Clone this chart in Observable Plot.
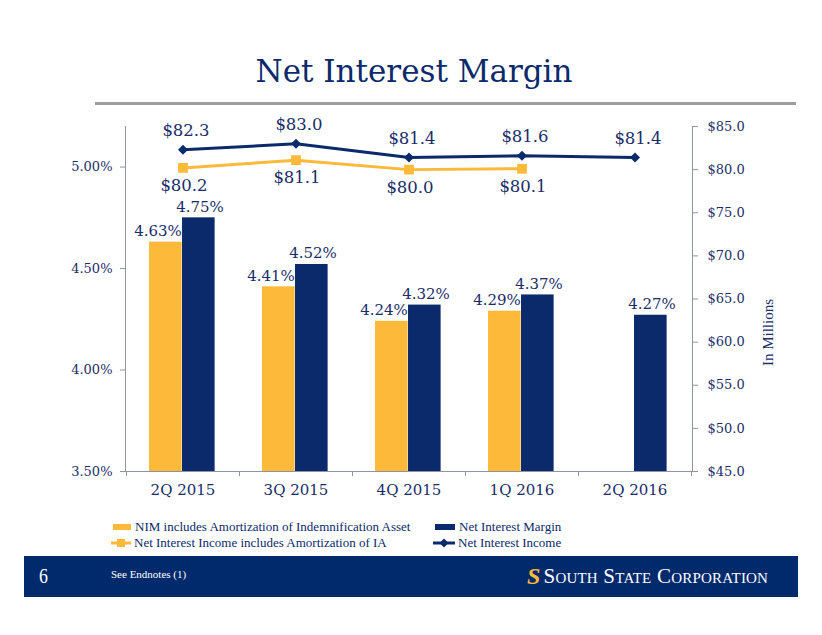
<!DOCTYPE html>
<html>
<head>
<meta charset="utf-8">
<script src="https://cdn.jsdelivr.net/npm/d3@7"></script>
<script src="https://cdn.jsdelivr.net/npm/@observablehq/plot@0.6"></script>
<style>
  html, body { margin: 0; padding: 0; background: #fff; }
  #page { position: relative; width: 822px; height: 635px; overflow: hidden; background: #fff; }
  #title { position: absolute; left: 3px; top: 51px; width: 822px; text-align: center;
           font-family: "DejaVu Serif", serif; font-size: 31px; color: #0b2a6b; line-height: 40px; }
  #rule { position: absolute; left: 95px; top: 102px; width: 701px; height: 3px; background: #9d9d9d; }
  #chart { position: absolute; left: 0; top: 110px; }
  .leg { position: absolute; font-family: "Liberation Serif", serif; font-size: 13px; color: #0b2a6b;
         line-height: 16px; white-space: nowrap; display: flex; align-items: center; }
  .leg svg { margin-right: 3px; }
  #footer { position: absolute; left: 24px; top: 556px; width: 774px; height: 41px; background: #002a6c; }
  #pnum { position: absolute; left: 15px; top: 8px; color: #fff; font-family: "Liberation Serif", serif; font-size: 21px; transform: scaleX(0.85); transform-origin: left; }
  #endn { position: absolute; left: 87px; top: 12px; color: #fff; font-family: "Liberation Serif", serif; font-size: 11px; }
  #logo { position: absolute; left: 503px; top: 7px; color: #fff; font-family: "Liberation Serif", serif;
          font-size: 21px; font-variant: small-caps; letter-spacing: 0.2px; white-space: nowrap; display: flex; align-items: center; }
  #logo .s { color: #fdb93a; font-weight: bold; font-size: 24px; font-style: italic; margin-right: 3px; font-variant: normal; }
</style>
</head>
<body>
<div id="page">
  <div id="title">Net Interest Margin</div>
  <div id="rule"></div>
  <div id="chart"></div>
  <div class="leg" style="left:112px; top:519px;"><svg width="20" height="10"><rect x="1" y="2" width="18" height="6" fill="#fdb93a"/></svg>NIM includes Amortization of Indemnification Asset</div>
  <div class="leg" style="left:434px; top:519px;"><svg width="22" height="10"><rect x="1" y="2" width="20" height="6" fill="#0b2a6b"/></svg>Net Interest Margin</div>
  <div class="leg" style="left:111px; top:535px;"><svg width="20" height="10"><line x1="0" y1="5" x2="20" y2="5" stroke="#fdb93a" stroke-width="3"/><rect x="6" y="1" width="8" height="8" fill="#fdb93a"/></svg>Net Interest Income includes Amortization of IA</div>
  <div class="leg" style="left:433px; top:535px;"><svg width="22" height="10"><line x1="0" y1="5" x2="22" y2="5" stroke="#0b2a6b" stroke-width="3"/><path d="M11,0.5 L15.5,5 L11,9.5 L6.5,5 Z" fill="#0b2a6b"/></svg>Net Interest Income</div>
  <div id="footer">
    <div id="pnum">6</div>
    <div id="endn">See Endnotes (1)</div>
    <div id="logo"><span class="s">S</span>South State Corporation</div>
  </div>
</div>
<script>
// ---- data ----
const quarters = ["2Q 2015", "3Q 2015", "4Q 2015", "1Q 2016", "2Q 2016"];
const nimWithIA = [4.63, 4.41, 4.24, 4.29, null];   // NIM includes Amortization of Indemnification Asset (%)
const nimValues = [4.75, 4.52, 4.32, 4.37, 4.27];   // Net Interest Margin (%)
const niiWithIA = [80.2, 81.1, 80.0, 80.1, null];   // Net Interest Income includes Amortization of IA ($M)
const niiValues = [82.3, 83.0, 81.4, 81.6, 81.4];   // Net Interest Income ($M)
const leftTicks = [3.5, 4.0, 4.5, 5.0];
const rightTicks = [45, 50, 55, 60, 65, 70, 75, 80, 85];
const leftDomain = [3.5, 5.2];
const rightDomain = [45, 85];

// ---- style ----
const navy = "#0b2a6b";
const yellow = "#fdb93a";
const textNavy = "#1a2d69";
const axisGray = "#8e93a8";
const numFont = "DejaVu Serif";

// secondary axis mapping ($M -> % scale)
const toLeft = d3.scaleLinear(rightDomain, leftDomain);

const rows = (vals) => quarters.map((q, i) => ({q, v: vals[i]})).filter(d => d.v != null);
const barsIA = rows(nimWithIA);
const bars = rows(nimValues);
const linesIA = rows(niiWithIA);
const lines = rows(niiValues);

const W = 822, H = 400;
const mL = 125, mR = 130, mT = 16, mB = 39;
const bw = (W - mL - mR) / quarters.length;

const axisLines = (index, scales, values, dims) => {
  const d = dims || {width: W, height: H, marginLeft: mL, marginRight: mR, marginTop: mT, marginBottom: mB};
  const x0 = d.marginLeft, x1 = d.width - d.marginRight;
  const y0 = d.marginTop, y1 = d.height - d.marginBottom;
  const g = d3.create("svg:g").attr("stroke", axisGray).attr("stroke-width", 1).attr("fill", "none");
  g.append("line").attr("x1", x0 + 0.5).attr("x2", x0 + 0.5).attr("y1", y0).attr("y2", y1);
  g.append("line").attr("x1", x1 + 0.5).attr("x2", x1 + 0.5).attr("y1", y0).attr("y2", y1);
  g.append("line").attr("x1", x0 - 5).attr("x2", x1 + 6).attr("y1", y1 + 0.5).attr("y2", y1 + 0.5);
  const xs = scales && scales.x ? quarters.map(q => scales.x(q)).concat([scales.x(quarters[quarters.length - 1]) + scales.x.bandwidth()]) : [];
  for (const xx of xs) g.append("line").attr("x1", xx + 0.5).attr("x2", xx + 0.5).attr("y1", y1).attr("y2", y1 + 5);
  return g.node();
};

const chart = Plot.plot({
  width: W,
  height: H,
  marginLeft: mL,
  marginRight: mR,
  marginTop: mT,
  marginBottom: mB,
  style: {fontFamily: numFont, background: "transparent", overflow: "visible"},
  x: {type: "band", domain: quarters, padding: 0},
  y: {domain: leftDomain},
  marks: [
    Plot.barY(barsIA, {x: "q", y1: leftDomain[0], y2: "v", fill: yellow, insetLeft: bw * 0.203, insetRight: bw * 0.506}),
    Plot.barY(bars, {x: "q", y1: leftDomain[0], y2: "v", fill: navy, insetLeft: bw * 0.494, insetRight: bw * 0.215}),
    axisLines,
    Plot.axisY(leftTicks, {anchor: "left", tickSize: 5, tickPadding: 8, stroke: axisGray, fill: textNavy,
      fontSize: 13, fontFamily: numFont, tickFormat: d => d.toFixed(2) + "%", label: null}),
    Plot.axisY(rightTicks.map(v => toLeft(v)), {anchor: "right", tickSize: 5, tickPadding: 10, stroke: axisGray, fill: textNavy,
      fontSize: 13, fontFamily: numFont, tickFormat: d => "$" + toLeft.invert(d).toFixed(1), label: null}),
    Plot.axisX({anchor: "bottom", tickSize: 0, tickPadding: 13, fill: textNavy, fontSize: 15, fontFamily: numFont, label: null}),
    Plot.text(["In Millions"], {frameAnchor: "right", rotate: -90, dx: 76, fill: textNavy, fontSize: 15, fontFamily: "Liberation Serif"}),
    Plot.text(barsIA, {x: "q", y: "v", text: d => d.v.toFixed(2) + "%", dx: -25, dy: -11, fill: textNavy, fontSize: 15}),
    Plot.text(bars, {x: "q", y: "v", text: d => d.v.toFixed(2) + "%", dx: 17, dy: -11, fill: textNavy, fontSize: 15}),
    Plot.line(linesIA, {x: "q", y: d => toLeft(d.v), stroke: yellow, strokeWidth: 3}),
    Plot.dot(linesIA, {x: "q", y: d => toLeft(d.v), symbol: "square", r: 5.5, fill: yellow, stroke: null}),
    Plot.line(lines, {x: "q", y: d => toLeft(d.v), stroke: navy, strokeWidth: 3}),
    Plot.dot(lines, {x: "q", y: d => toLeft(d.v), symbol: "diamond2", r: 4.5, fill: navy, stroke: null}),
    Plot.text(lines, {x: "q", y: d => toLeft(d.v), text: d => "$" + d.v.toFixed(1), dx: 3, dy: -19, fill: textNavy, fontSize: 16.5}),
    Plot.text(linesIA, {x: "q", y: d => toLeft(d.v), text: d => "$" + d.v.toFixed(1), dx: 1, dy: 18, fill: textNavy, fontSize: 16.5})
  ]
});
document.getElementById("chart").appendChild(chart);
</script>
</body>
</html>
